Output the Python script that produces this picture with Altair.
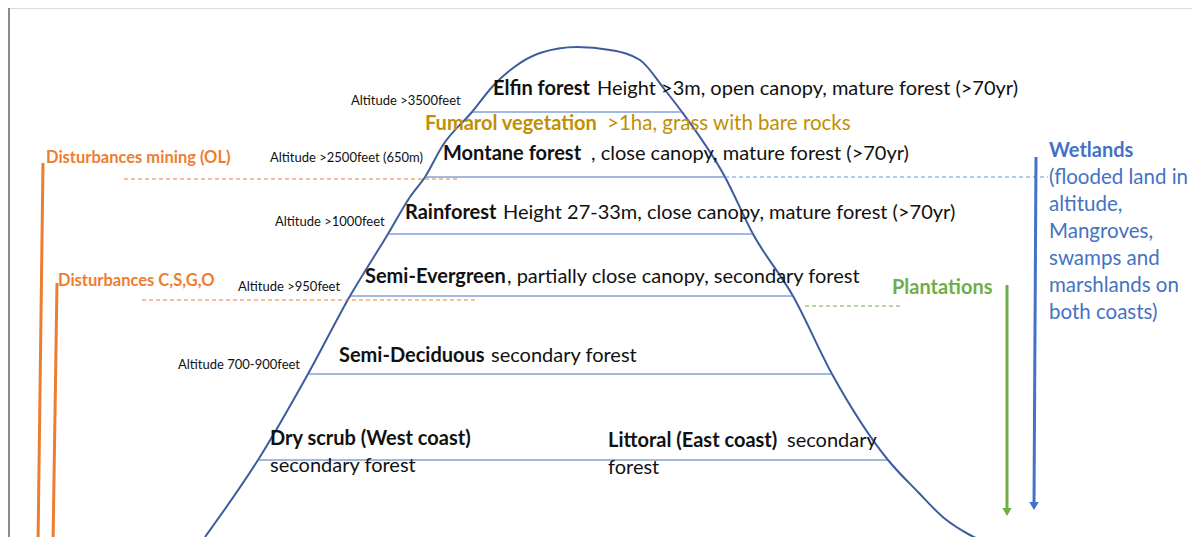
import altair as alt
import pandas as pd

FONT = "Lato"

# Mountain profile (reference pixel space: x right, y down)
curve_x = [205, 258, 308, 350, 388, 410, 425, 443, 472, 493, 513, 540, 577, 610, 640, 665, 682, 725, 753, 793, 832, 888, 918, 944, 970, 995]
curve_y = [537, 460, 374, 296, 234, 197, 177, 145, 112, 86, 68, 53, 47, 50, 60, 90, 112, 177, 234, 296, 374, 460, 492, 518, 535, 546]

# Vegetation zone separators (solid blue)
zone_y = [112, 177, 234, 296, 374, 460]
zone_x1 = [472, 425, 388, 350, 308, 258]
zone_x2 = [682, 725, 753, 793, 832, 888]

# Dashed guide lines
dash_x1 = [124, 142, 725, 805]
dash_x2 = [458, 478, 1048, 900]
dash_y = [179, 300, 177, 306]
dash_color = ["#ED7D31", "#ED7D31", "#5B9BD5", "#70AD47"]

# Vertical disturbance bars / arrows
vbar_x1 = [43, 57, 1007, 1036]
vbar_y1 = [163, 283, 285, 157]
vbar_x2 = [38, 53, 1007, 1034]
vbar_y2 = [545, 545, 510, 504]
vbar_color = ["#ED7D31", "#ED7D31", "#70AD47", "#4472C4"]
arrow_x = [1007, 1034]
arrow_y = [512, 506]
arrow_color = ["#70AD47", "#4472C4"]

# Frame
frame_x1 = [9, 9]
frame_y1 = [7, 7]
frame_x2 = [1200, 9]
frame_y2 = [7, 545]

# Texts
bold_labels = ["Elfin forest", "Montane forest", "Rainforest", "Semi-Evergreen", "Semi-Deciduous", "Dry scrub (West coast)", "Littoral (East coast)"]
bold_x = [493, 443, 405, 365, 339, 270, 608]
bold_y = [89, 154, 213, 277, 356, 439, 441]

reg_labels = ["Height >3m, open canopy, mature forest (>70yr)", ", close canopy, mature forest (>70yr)",
              "Height 27-33m, close canopy, mature forest (>70yr)", ", partially close canopy, secondary forest",
              "secondary forest", "secondary forest", "secondary", "forest"]
reg_x = [597, 591, 503, 507, 491, 270, 787, 608]
reg_y = [89, 154, 213, 277, 356, 466, 441, 468]

alt_labels = ["Altitude >3500feet", "Altitude >2500feet (650m)", "Altitude >1000feet", "Altitude >950feet", "Altitude 700-900feet"]
alt_x = [351, 270, 275, 238, 178]
alt_y = [101, 158, 222, 287, 365]

dist_labels = ["Disturbances mining (OL)", "Disturbances C,S,G,O"]
dist_x = [46, 58]
dist_y = [158, 281]

head_labels = ["Fumarol vegetation", "Plantations", "Wetlands"]
head_x = [425, 892, 1049]
head_y = [124, 288, 151]
head_color = ["#BF9000", "#70AD47", "#4472C4"]

side_labels = [">1ha, grass with bare rocks", "(flooded land in", "altitude,", "Mangroves,", "swamps and", "marshlands on", "both coasts)"]
side_x = [607, 1049, 1049, 1049, 1049, 1049, 1049]
side_y = [124, 178, 205, 232, 259, 286, 313]
side_color = ["#BF9000", "#4472C4", "#4472C4", "#4472C4", "#4472C4", "#4472C4", "#4472C4"]

W, H = 1184, 529
xs = alt.Scale(domain=[8, 8 + W], nice=False, zero=False)
ys = alt.Scale(domain=[8, 8 + H], nice=False, zero=False, reverse=True)
X = lambda f: alt.X(f, type="quantitative", scale=xs, axis=None)
Y = lambda f: alt.Y(f, type="quantitative", scale=ys, axis=None)

frame = alt.Chart(pd.DataFrame({"x": frame_x1, "y": frame_y1, "x2": frame_x2, "y2": frame_y2})).mark_rule(
    color="#8C8C8C", strokeWidth=2).encode(x=X("x"), y=Y("y"), x2="x2", y2="y2")

curve = alt.Chart(pd.DataFrame({"x": curve_x, "y": curve_y})).mark_line(
    interpolate="monotone", color="#3C5C9E", strokeWidth=2).encode(x=X("x"), y=Y("y"), order="x:Q")

zones = alt.Chart(pd.DataFrame({"x": zone_x1, "x2": zone_x2, "y": zone_y})).mark_rule(
    color="#4472C4", strokeWidth=1).encode(x=X("x"), x2="x2", y=Y("y"))

dashes = alt.Chart(pd.DataFrame({"x": dash_x1, "x2": dash_x2, "y": dash_y, "c": dash_color})).mark_rule(
    strokeWidth=1, strokeDash=[4, 3]).encode(x=X("x"), x2="x2", y=Y("y"), color=alt.Color("c:N", scale=None))

vbars = alt.Chart(pd.DataFrame({"x": vbar_x1, "y": vbar_y1, "x2": vbar_x2, "y2": vbar_y2, "c": vbar_color})).mark_rule(
    strokeWidth=3).encode(x=X("x"), y=Y("y"), x2="x2", y2="y2", color=alt.Color("c:N", scale=None))

heads = alt.Chart(pd.DataFrame({"x": arrow_x, "y": arrow_y, "c": arrow_color})).mark_point(
    shape="triangle-down", filled=True, size=90, opacity=1).encode(x=X("x"), y=Y("y"), color=alt.Color("c:N", scale=None))


def texts(labels, xv, yv, size, weight, color=None, colors=None):
    d = {"t": labels, "x": xv, "y": yv}
    if colors is not None:
        d["c"] = colors
    kw = dict(font=FONT, fontSize=size, fontWeight=weight, align="left", baseline="middle")
    if color is not None:
        kw["color"] = color
    enc = dict(x=X("x"), y=Y("y"), text="t:N")
    if colors is not None:
        enc["color"] = alt.Color("c:N", scale=None)
    return alt.Chart(pd.DataFrame(d)).mark_text(**kw).encode(**enc)


t_bold = texts(bold_labels, bold_x, bold_y, 20, "bold", color="#111111")
t_reg = texts(reg_labels, reg_x, reg_y, 20, "normal", color="#111111")
t_alt = texts(alt_labels, alt_x, alt_y, 13, "normal", color="#111111")
t_dist = texts(dist_labels, dist_x, dist_y, 16.5, "bold", color="#ED7D31")
t_head = texts(head_labels, head_x, head_y, 20, "bold", colors=head_color)
t_side = texts(side_labels, side_x, side_y, 20.5, "normal", colors=side_color)

chart = alt.layer(frame, curve, zones, dashes, vbars, heads, t_bold, t_reg, t_alt, t_dist, t_head, t_side).properties(
    width=W, height=H, padding=0, autosize=alt.AutoSizeParams(type="none")
).configure_view(stroke=None).configure(background="white")

chart.save("out.html", embed_options={"renderer": "svg", "actions": False})
